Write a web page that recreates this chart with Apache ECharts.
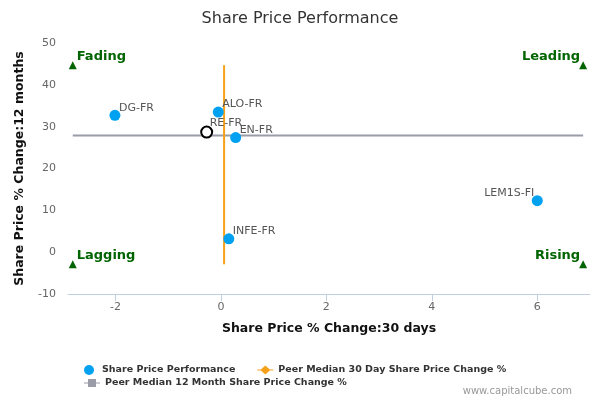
<!DOCTYPE html>
<html><head><meta charset="utf-8">
<script src="https://cdn.jsdelivr.net/npm/echarts@6/dist/echarts.min.js"></script>
<style>html,body{margin:0;padding:0;background:#fff}#c{width:600px;height:400px}</style>
</head><body><div id="c"></div>
<script>
const tickers = ['DG-FR','ALO-FR','RE-FR','EN-FR','INFE-FR','LEM1S-FI'];
const change30d = [-2.01, -0.05, -0.27, 0.28, 0.15, 6.0];
const change12m = [32.7, 33.5, 28.7, 27.4, 3.2, 12.3];
const highlighted = 'RE-FR';
const peerMedian30d = 0.06;
const peerMedian12m = 27.9;
const quadrantNames = ['Fading','Leading','Lagging','Rising'];
const quadrantX = [-2.81, 6.87, -2.81, 6.87];
const quadrantY = [44.7, 44.7, -2.9, -2.9];
const xTicks = [-2, 0, 2, 4, 6];
const yTicks = [-10, 0, 10, 20, 30, 40, 50];

const FONT = 'DejaVu Sans';
const blue = '#00a1f1';

const pointData = tickers.map((t, i) => {
  const hl = t === highlighted;
  const rightSide = change30d[i] > 5;
  return {
    name: t,
    value: [change30d[i], change12m[i]],
    symbolSize: 11,
    itemStyle: hl ? {color: '#fff', borderColor: '#000', borderWidth: 2, opacity: 1} : {color: blue, opacity: 1},
    label: {
      show: true, formatter: t, color: '#555', fontSize: 11, fontFamily: FONT,
      position: rightSide ? [2.5, -2] : [9.5, -2],
      align: rightSide ? 'right' : 'left', verticalAlign: 'middle'
    }
  };
});

const quadData = quadrantNames.map((n, i) => {
  const right = i % 2 === 1;
  return {
    name: n, value: [quadrantX[i], quadrantY[i]],
    label: {
      show: true, formatter: n, color: '#006400', fontWeight: 'bold', fontSize: 13, fontFamily: FONT,
      position: right ? [1, -5] : [8, -5], align: right ? 'right' : 'left', verticalAlign: 'middle'
    }
  };
});

const legendText = {fontSize: 9.5, fontWeight: 'bold', color: '#333', fontFamily: FONT};
const diamondIcon = 'path://M0,4L3.5,4L8,0L12.5,4L16,4L16,5L12.5,5L8,9L3.5,5L0,5Z';
const squareIcon = 'path://M0,3.5L4,3.5L4,0L12,0L12,3.5L16,3.5L16,4.5L12,4.5L12,8L4,8L4,4.5L0,4.5Z';
const chart = echarts.init(document.getElementById('c'), null, {renderer: 'canvas'});
chart.setOption({
  animation: false,
  textStyle: {fontFamily: FONT},
  title: {text: 'Share Price Performance', left: 'center', top: 6,
    textStyle: {fontSize: 16, fontWeight: 'normal', color: '#333', fontFamily: FONT}},
  grid: {left: 68, right: 10, top: 43, bottom: 106},
  legend: [
    {data: [{name: 'Share Price Performance', icon: 'circle'},
            {name: 'Peer Median 30 Day Share Price Change %', icon: diamondIcon}],
     left: 79, top: 360, itemWidth: 16, itemHeight: 10, itemGap: 22, textStyle: legendText},
    {data: [{name: 'Peer Median 12 Month Share Price Change %', icon: squareIcon}],
     left: 79, top: 373, itemWidth: 16, itemHeight: 9, textStyle: legendText}
  ],
  xAxis: {
    type: 'value', min: -2.9, max: 7,
    name: 'Share Price % Change:30 days', nameLocation: 'middle', nameGap: 28,
    nameTextStyle: {fontSize: 12.5, fontWeight: 'bold', color: '#111', fontFamily: FONT},
    axisLine: {show: true, onZero: false, lineStyle: {color: '#c0d0e0'}},
    axisTick: {show: true, customValues: xTicks, length: 7, lineStyle: {color: '#c0d0e0'}},
    axisLabel: {customValues: xTicks, color: '#666', fontSize: 11, fontFamily: FONT, margin: 8},
    splitLine: {show: false}
  },
  yAxis: {
    type: 'value', min: -10, max: 50, interval: 10,
    name: 'Share Price % Change:12 months', nameLocation: 'middle', nameGap: 42,
    nameTextStyle: {fontSize: 12.5, fontWeight: 'bold', color: '#111', fontFamily: FONT},
    axisLine: {show: false, onZero: false}, axisTick: {show: false},
    axisLabel: {customValues: yTicks, color: '#666', fontSize: 11, fontFamily: FONT, margin: 12},
    splitLine: {show: false}
  },
  series: [
    {name: 'Peer Median 12 Month Share Price Change %', type: 'line',
     data: [[quadrantX[0], peerMedian12m], [quadrantX[1], peerMedian12m]],
     symbol: 'rect', symbolSize: 9, showSymbol: false,
     lineStyle: {color: '#9a9ca8', width: 2}, itemStyle: {color: '#9a9ca8'}, z: 1},
    {name: 'Peer Median 30 Day Share Price Change %', type: 'line',
     data: [[peerMedian30d, quadrantY[2]], [peerMedian30d, quadrantY[0]]],
     symbol: 'diamond', symbolSize: 11, showSymbol: false,
     lineStyle: {color: '#f7a11a', width: 2}, itemStyle: {color: '#f7a11a'}, z: 1},
    {name: 'Share Price Performance', type: 'scatter', data: pointData,
     itemStyle: {color: blue, opacity: 1}, symbolSize: 11, z: 3},
    {name: 'quadrants', type: 'scatter', data: quadData, symbol: 'triangle', symbolSize: 8,
     itemStyle: {color: '#006400', opacity: 1}, z: 2}
  ],
  graphic: [{type: 'text', right: 28, top: 386,
    style: {text: 'www.capitalcube.com', fill: '#999', fontSize: 10, fontFamily: FONT}}]
});
</script></body></html>
